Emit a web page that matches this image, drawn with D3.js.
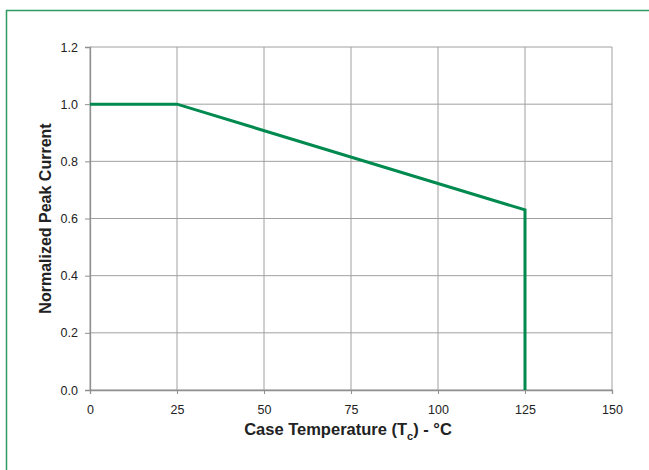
<!DOCTYPE html>
<html><head><meta charset="utf-8">
<script src="https://cdn.jsdelivr.net/npm/d3@7"></script>
<style>body{margin:0;background:#fff;}svg{display:block;font-family:"Liberation Sans",Arial,sans-serif;}</style>
</head><body><svg id="c" width="649" height="470"></svg>
<script>
const temps = [0, 25, 125, 125];
const current = [1.0, 1.0, 0.63, 0.0];
const xTicks = [0, 25, 50, 75, 100, 125, 150];
const yTicks = [0.0, 0.2, 0.4, 0.6, 0.8, 1.0, 1.2];

const svg = d3.select("#c");
const m = {l: 90, r: 612, t: 47, b: 390};
const x = d3.scaleLinear().domain([0, 150]).range([m.l, m.r]);
const y = d3.scaleLinear().domain([0, 1.2]).range([m.b, m.t]);

// outer frame
svg.append("path").attr("d", "M6.5,470 V10.5 H649").attr("fill", "none")
  .attr("stroke", "#2e9a62").attr("stroke-width", 1.5);

// grid
svg.append("g").selectAll("line").data(xTicks).join("line")
  .attr("x1", d => x(d)).attr("x2", d => x(d)).attr("y1", m.t).attr("y2", m.b)
  .attr("stroke", "#a0a0a0").attr("stroke-width", 1);
svg.append("g").selectAll("line").data(yTicks).join("line")
  .attr("x1", m.l).attr("x2", m.r).attr("y1", d => y(d)).attr("y2", d => y(d))
  .attr("stroke", "#a0a0a0").attr("stroke-width", 1);

// axes
const xa = svg.append("g").attr("transform", `translate(0,${m.b})`)
  .call(d3.axisBottom(x).tickValues(xTicks).tickSize(4).tickPadding(11).tickFormat(d3.format("d")));
const ya = svg.append("g").attr("transform", `translate(${m.l},0)`)
  .call(d3.axisLeft(y).tickValues(yTicks).tickSize(5).tickPadding(7).tickFormat(d3.format(".1f")));
[xa, ya].forEach(a => {
  a.attr("font-size", null).attr("font-family", null);
  a.select(".domain").attr("stroke", "#909090").attr("stroke-width", 1.3);
  a.selectAll(".tick line").attr("stroke", "#909090");
  a.selectAll("text").attr("fill", "#222").style("font-size", "12.5px")
    .style("font-family", '"Liberation Sans",Arial,sans-serif');
});

// data line
const line = d3.line().x((d, i) => x(temps[i])).y((d, i) => y(current[i]));
svg.append("path").datum(current).attr("d", line).attr("fill", "none")
  .attr("stroke", "#008a50").attr("stroke-width", 3).attr("stroke-linejoin", "miter");

// titles
const xt = svg.append("text").attr("x", 348).attr("y", 435).attr("text-anchor", "middle")
  .style("font-size", "16.5px").attr("font-weight", "bold").attr("fill", "#222");
xt.append("tspan").text("Case Temperature (T");
xt.append("tspan").style("font-size", "11px").attr("dy", 5).text("c");
xt.append("tspan").attr("dy", -5).text(") - °C");

svg.append("text").attr("transform", `translate(51,${(m.t + m.b) / 2}) rotate(-90)`)
  .attr("text-anchor", "middle").style("font-size", "16px").attr("font-weight", "bold")
  .attr("fill", "#222").text("Normalized Peak Current");
</script></body></html>
